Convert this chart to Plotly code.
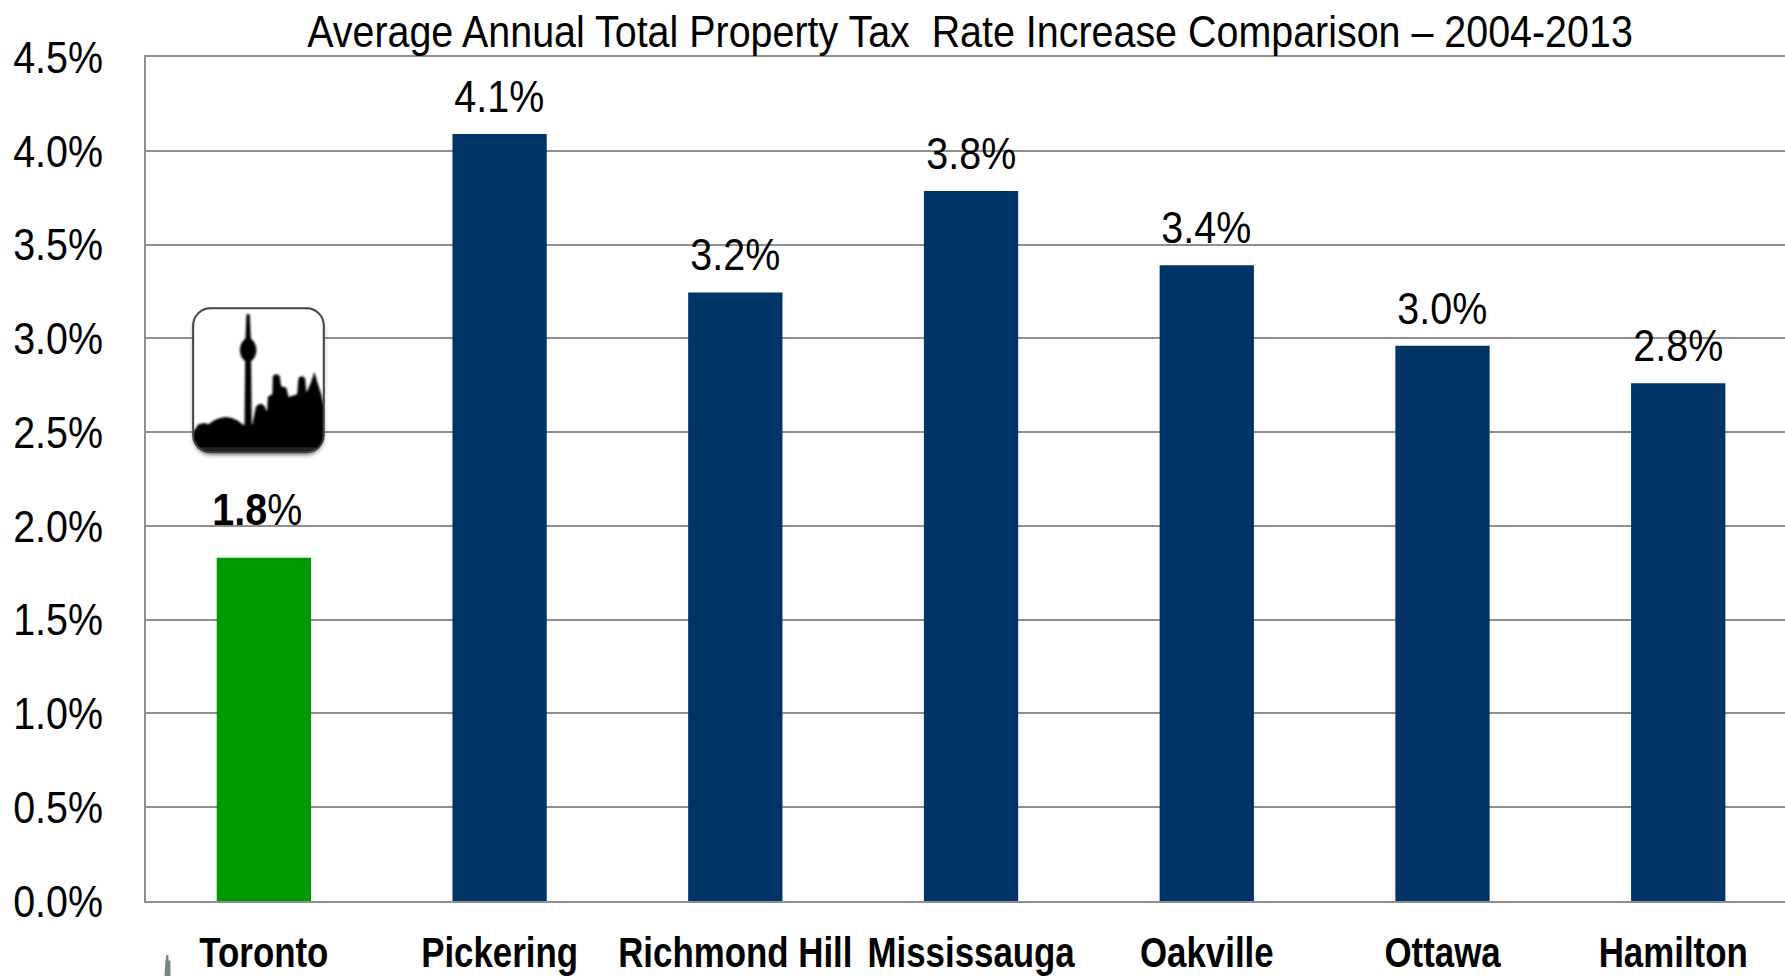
import base64
import plotly.graph_objects as go

# Average annual total property tax rate increase, 2004-2013 (percent)
cities = ["Toronto", "Pickering", "Richmond Hill", "Mississauga", "Oakville", "Ottawa", "Hamilton"]
increases = [1.83, 4.09, 3.245, 3.785, 3.39, 2.96, 2.76]
bar_colors = ["#009900", "#003366", "#003366", "#003366", "#003366", "#003366", "#003366"]
y_ticks = [0, 0.5, 1, 1.5, 2, 2.5, 3, 3.5, 4, 4.5]
title_text = "Average Annual Total Property Tax\u00a0 Rate Increase Comparison \u2013 2004-2013"

FONT = "Liberation Sans, Arial, sans-serif"
W, H = 1785, 976
L, T, B = 145.5, 57, 75
GRID = "#8f8f8f"

# Skyline badge: rounded tile with the CN Tower silhouette
SKYLINE = ("M0,375 L18,350 L35,346 L48,350 Q70,330 100,328 Q130,330 150,350 L165,358 L180,350 L190,298 "
           "Q205,280 216,296 L224,312 L226,268 L240,258 L241,205 Q252,195 262,205 L266,236 L282,240 L288,268 L314,260 "
           "L318,212 Q328,200 338,212 L342,255 L355,225 L366,192 L376,228 L386,258 L396,300 L396,438 L0,438 Z")
TOWER = ("M162,20 L172,20 L175,92 Q192,108 192,128 Q190,152 176,160 L178,365 L156,365 L158,160 "
         "Q144,152 142,128 Q142,108 159,92 Z")
badge_svg = f"""<svg xmlns="http://www.w3.org/2000/svg" width="420" height="462" viewBox="-12 -8 420 462">
<defs>
<clipPath id="c"><rect x="2" y="2" width="392" height="432" rx="52"/></clipPath>
<filter id="s" x="-10%" y="-10%" width="120%" height="120%"><feGaussianBlur stdDeviation="6"/></filter>
<filter id="b" x="-5%" y="-5%" width="110%" height="110%"><feGaussianBlur stdDeviation="2.5"/></filter>
</defs>
<rect x="3" y="10" width="390" height="432" rx="52" fill="#777" filter="url(#s)"/>
<rect x="2" y="2" width="392" height="432" rx="52" fill="#fff"/>
<g clip-path="url(#c)" filter="url(#b)" fill="#050505">
<path d="{SKYLINE}"/>
<path d="{TOWER}"/>
<rect x="0" y="423" width="396" height="3" fill="#555"/>
</g>
<rect x="2" y="2" width="392" height="432" rx="52" fill="none" stroke="#444" stroke-width="6"/>
</svg>"""
badge_uri = "data:image/svg+xml;base64," + base64.b64encode(badge_svg.encode()).decode()

# Small tower tip poking up at the bottom edge
tip_svg = """<svg xmlns="http://www.w3.org/2000/svg" width="20" height="30" viewBox="0 0 20 30">
<path d="M9,0 L11,0 L11,8 L13,8 L13,30 L7,30 L8,8 Z" fill="#71897a"/></svg>"""
tip_uri = "data:image/svg+xml;base64," + base64.b64encode(tip_svg.encode()).decode()

fig = go.Figure(go.Bar(
    x=cities, y=increases, width=0.4,
    marker=dict(color=bar_colors, line=dict(width=0)),
    hovertemplate="%{x}: %{y:.1f}%<extra></extra>",
))

# Value labels sit above each bar; the Toronto one has a bold figure and is set higher
annotations = []
for city, value in zip(cities, increases):
    is_home = city == "Toronto"
    annotations.append(dict(
        x=city, y=value, xref="x", yref="y",
        text=f"<b>{value:.1f}</b>%" if is_home else f"{value:.1f}%",
        showarrow=False, yanchor="bottom", xanchor="center",
        xshift=-6 if is_home else 0, yshift=21 if is_home else 10,
        font=dict(family=FONT, size=45, color="#000"),
    ))

plot_w = W - L
fig.update_layout(
    width=W, height=H, autosize=False,
    margin=dict(l=L, r=0, t=T, b=B, autoexpand=False),
    paper_bgcolor="#fff", plot_bgcolor="#fff", showlegend=False,
    title=dict(text=title_text, x=970 / W, xanchor="center", y=1 - 31 / H, yanchor="middle",
               font=dict(family=FONT, size=45, color="#000")),
    xaxis=dict(
        type="category", categoryorder="array", categoryarray=cities,
        range=[-0.5, -0.5 + plot_w / 235.8], showgrid=False, ticks="",
        showline=True, mirror=True, linecolor=GRID, linewidth=2,
        tickfont=dict(family=FONT, size=42, color="#000"),
        tickmode="array", tickvals=cities, ticktext=[f"<b>{c}</b>" for c in cities],
        tickangle=0, ticklabelstandoff=14,
    ),
    yaxis=dict(
        range=[0, 4.5], tickmode="array", tickvals=y_ticks,
        ticktext=[f"{t:.1f}%" for t in y_ticks], ticks="",
        showgrid=True, gridcolor=GRID, gridwidth=2,
        showline=True, linecolor=GRID, linewidth=2, zeroline=False,
        tickfont=dict(family=FONT, size=45, color="#000"),
        ticklabelstandoff=32,
    ),
    annotations=annotations,
    images=[
        dict(source=badge_uri, xref="paper", yref="paper", layer="above",
             x=(188 - L) / plot_w, y=1 - (305 - T) / (H - T - B),
             sizex=140 / plot_w, sizey=154 / (H - T - B),
             xanchor="left", yanchor="top", sizing="stretch"),
        dict(source=tip_uri, xref="paper", yref="paper", layer="above",
             x=(157 - L) / plot_w, y=1 - (955 - T) / (H - T - B),
             sizex=20 / plot_w, sizey=21 / (H - T - B),
             xanchor="left", yanchor="top", sizing="stretch"),
    ],
)

# The chart's lettering is a condensed grotesque: narrow each text about its anchor point.
# The Hamilton label also sits a little left of its bar.
condense_js = """
function condense(selector, factor, atEnd) {
  document.querySelectorAll(selector).forEach(function (el) {
    var box = el.getBBox();
    var ax = atEnd ? box.x + box.width : box.x + box.width / 2;
    var prior = el.getAttribute('transform') || '';
    var nudge = el.textContent === 'Hamilton' ? -5 : 0;
    el.setAttribute('transform', prior + ' translate(' + (ax + nudge) + ',0) scale(' + factor + ',1) translate(' + (-ax) + ',0)');
  });
}
condense('.gtitle', 0.876, false);
condense('.annotation-text', 0.876, false);
condense('.ytick text', 0.876, true);
condense('.xtick text', 0.83, false);
"""

fig.write_html("out.html", config=dict(displayModeBar=False), post_script=condense_js)
